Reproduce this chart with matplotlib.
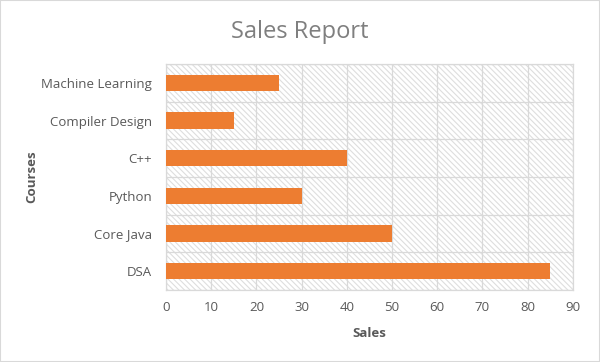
import matplotlib
matplotlib.use("Agg")
import matplotlib.pyplot as plt
from matplotlib.patches import Rectangle
import numpy as np

courses = ["DSA", "Core Java", "Python", "C++", "Compiler Design", "Machine Learning"]
sales = [85, 50, 30, 40, 15, 25]
xticks = [0, 10, 20, 30, 40, 50, 60, 70, 80, 90]

plt.rcParams['font.family'] = ['Open Sans', 'DejaVu Sans']
plt.rcParams['hatch.color'] = '#d9d9d9'
plt.rcParams['hatch.linewidth'] = 0.8

fig = plt.figure(figsize=(6, 3.62), dpi=100)
fig.patches.append(Rectangle((0, 0), 1, 1, transform=fig.transFigure, fill=False,
                             edgecolor='#d9d9d9', linewidth=1.5))
ax = fig.add_axes([0.2767, 0.199, 0.678, 0.624])

ax.add_patch(Rectangle((0, 0), 1, 1, transform=ax.transAxes, facecolor='white',
                       edgecolor='#dedede', linewidth=0, hatch='\\\\\\\\\\\\', zorder=0))

y = np.arange(len(courses))
ax.barh(y, sales, height=0.43, color='#ed7d31', zorder=3)

ax.set_xlim(0, 90)
ax.set_ylim(-0.5, len(courses) - 0.5)
ax.set_xticks(xticks)
ax.set_yticks(y)
ax.set_yticklabels(courses)
ax.set_yticks(np.arange(-0.5, len(courses), 1.0), minor=True)
ax.grid(axis='x', color='#d9d9d9', linewidth=0.9, zorder=1)
ax.grid(axis='y', which='minor', color='#d9d9d9', linewidth=0.9, zorder=1)
ax.grid(axis='y', which='major', visible=False)
ax.tick_params(axis='both', which='both', length=0, labelsize=9.5, colors='#595959')
ax.tick_params(axis='x', pad=8)
ax.tick_params(axis='y', pad=10)
for s in ax.spines.values():
    s.set_color('#d9d9d9')
    s.set_linewidth(0.9)
ax.set_axisbelow(True)

ax.set_xlabel("Sales", fontsize=9.5, fontweight='bold', color='#595959', labelpad=9)
ax.set_ylabel("Courses", fontsize=9.5, fontweight='bold', color='#595959', labelpad=2)
fig.text(0.5, 0.912, "Sales Report", ha='center', va='center', fontsize=17, color='#7f7f7f')

fig.savefig("out.png", dpi=100)
